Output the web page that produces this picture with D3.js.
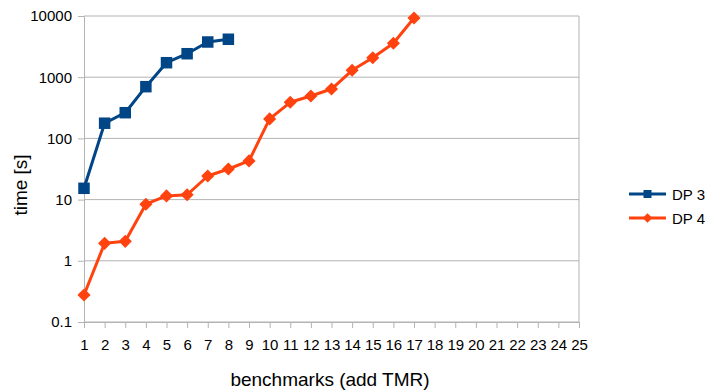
<!DOCTYPE html>
<html>
<head>
<meta charset="utf-8">
<script src="https://cdn.jsdelivr.net/npm/d3@7"></script>
<style>
  body { margin: 0; background: #fff; }
  text { font-family: "Liberation Sans", Arial, sans-serif; fill: #000; }
</style>
</head>
<body>
<div id="chart"></div>
<script>
// benchmark numbers 1..25
var benchmarks = d3.range(1, 26);
var yTicks = [0.1, 1, 10, 100, 1000, 10000];

// time [s] per benchmark
var dp3 = [15.3, 177, 263, 700, 1725, 2420, 3760, 4170];
var dp4 = [0.276, 1.93, 2.08, 8.4, 11.5, 12.0, 24.3, 31.6, 42.9, 208, 389, 493, 641, 1297, 2083, 3580, 9270];

var seriesNames = ["DP 3", "DP 4"];
var seriesColors = ["#004586", "#ff420e"];

drawChart();

function drawChart() {
  var width = 715, height = 392;
  var svg = d3.select("#chart").append("svg")
    .attr("width", width).attr("height", height);

  var x = d3.scaleLinear().domain([1, 25]).range([84, 579]);
  var y = d3.scaleLog().domain([0.1, 10000]).range([322, 16]);

  // horizontal gridlines
  svg.append("g").selectAll("line").data(yTicks).enter().append("line")
    .attr("x1", x(1)).attr("x2", x(25))
    .attr("y1", function(d) { return y(d); }).attr("y2", function(d) { return y(d); })
    .attr("stroke", "#b3b3b3").attr("stroke-width", 1);

  // right edge of the plot
  svg.append("line")
    .attr("x1", x(25)).attr("x2", x(25)).attr("y1", y(10000)).attr("y2", y(0.1))
    .attr("stroke", "#b3b3b3");

  // y axis
  var yAxis = d3.axisLeft(y).tickValues(yTicks).tickSize(6).tickPadding(6)
    .tickFormat(function(d) { return String(d); });
  var gy = svg.append("g").attr("transform", "translate(" + x(1) + ",0)").call(yAxis);
  gy.select(".domain").attr("stroke", "#b3b3b3");
  gy.selectAll(".tick line").attr("stroke", "#b3b3b3");
  gy.selectAll("text").attr("font-size", 15).attr("font-family", "Liberation Sans").attr("fill", "#000");

  // x axis
  var xAxis = d3.axisBottom(x).tickValues(benchmarks).tickSize(6).tickPadding(11)
    .tickFormat(d3.format("d"));
  var gx = svg.append("g").attr("transform", "translate(0," + y(0.1) + ")").call(xAxis);
  gx.select(".domain").attr("stroke", "#b3b3b3");
  gx.selectAll(".tick line").attr("stroke", "#b3b3b3");
  gx.selectAll("text").attr("font-size", 15).attr("font-family", "Liberation Sans").attr("fill", "#000");

  // axis titles
  svg.append("text").attr("x", 330).attr("y", 386)
    .attr("text-anchor", "middle").attr("font-size", 19)
    .text("benchmarks (add TMR)");
  svg.append("text").attr("transform", "translate(27,185) rotate(-90)")
    .attr("text-anchor", "middle").attr("font-size", 19)
    .text("time [s]");

  var line = d3.line()
    .x(function(d, i) { return x(i + 1); })
    .y(function(d) { return y(d); });

  var allSeries = [dp3, dp4];
  var square = d3.symbol().type(d3.symbolSquare).size(132);
  var diamond = d3.symbol().type(d3.symbolDiamond2).size(110);
  var symbols = [square, diamond];

  allSeries.forEach(function(vals, s) {
    svg.append("path").datum(vals)
      .attr("d", line)
      .attr("fill", "none")
      .attr("stroke", seriesColors[s])
      .attr("stroke-width", 3)
      .attr("stroke-linejoin", "round");
    svg.append("g").selectAll("path").data(vals).enter().append("path")
      .attr("d", symbols[s])
      .attr("transform", function(d, i) {
        return "translate(" + x(i + 1) + "," + y(d) + ")";
      })
      .attr("fill", seriesColors[s]);
  });

  // legend
  var legend = svg.append("g").selectAll("g").data(seriesNames).enter().append("g")
    .attr("transform", function(d, i) { return "translate(629," + (194 + i * 24) + ")"; });
  legend.append("line")
    .attr("x1", 0).attr("x2", 37).attr("y1", 0).attr("y2", 0)
    .attr("stroke", function(d, i) { return seriesColors[i]; })
    .attr("stroke-width", 3);
  legend.append("path")
    .attr("d", function(d, i) {
      return i === 0 ? d3.symbol().type(d3.symbolSquare).size(64)() : d3.symbol().type(d3.symbolDiamond2).size(60)();
    })
    .attr("transform", "translate(18.5,0)")
    .attr("fill", function(d, i) { return seriesColors[i]; });
  legend.append("text")
    .attr("x", 43).attr("y", 5.5)
    .attr("font-size", 15)
    .text(function(d) { return d; });
}
</script>
</body>
</html>
